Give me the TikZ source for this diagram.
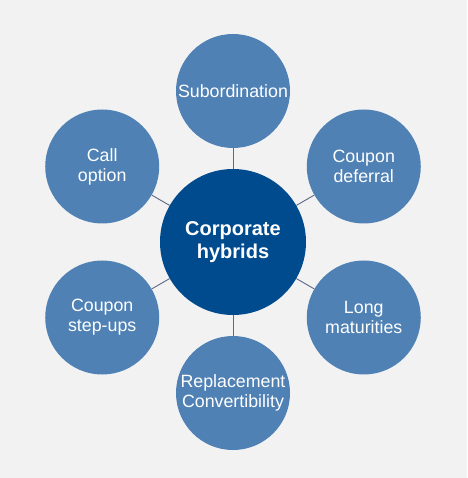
\documentclass[tikz,border=0pt]{standalone}
\usepackage{fontspec}
\setmainfont{Liberation Sans}
\usepackage{tikz}
\usetikzlibrary{backgrounds}
\definecolor{hubblue}{RGB}{0,75,141}
\definecolor{leafblue}{RGB}{79,129,181}
\definecolor{bggray}{RGB}{242,242,242}
\definecolor{linkgray}{RGB}{95,105,135}

\begin{document}
\begin{tikzpicture}[x=1pt, y=1pt,
  hub/.style={circle, fill=hubblue, minimum size=146pt, inner sep=0pt, align=center, text=white, font=\fontsize{20}{23}\selectfont\bfseries},
  leaf/.style={circle, fill=leafblue, minimum size=114pt, inner sep=0pt, align=center, text=white, font=\fontsize{17.8}{20}\selectfont},
  link/.style={draw=linkgray, line width=0.9pt}
]
 \useasboundingbox (-233,-236) rectangle (234,242);

 % centre
 \node[hub] (hyb) at (0,0) {Corporate\\ hybrids};

 % features around the centre
 \node[leaf] (sub) at (90:151) {Subordination};
 \node[leaf] (def) at (30:151) {Coupon\\ deferral};
 \node[leaf] (mat) at (-30:151) {Long\\ maturities};
 \node[leaf] (rep) at (-90:151) {Replacement\\ Convertibility};
 \node[leaf] (stp) at (-150:151) {Coupon\\ step-ups};
 \node[leaf] (cal) at (150:151) {Call\\ option};

 % background and links
 \begin{scope}[on background layer]
  \fill[bggray] (-233,-236) rectangle (234,242);
  \foreach \f in {sub, def, mat, rep, stp, cal}
   \draw[link] (hyb) -- (\f);
 \end{scope}
\end{tikzpicture}
\end{document}
